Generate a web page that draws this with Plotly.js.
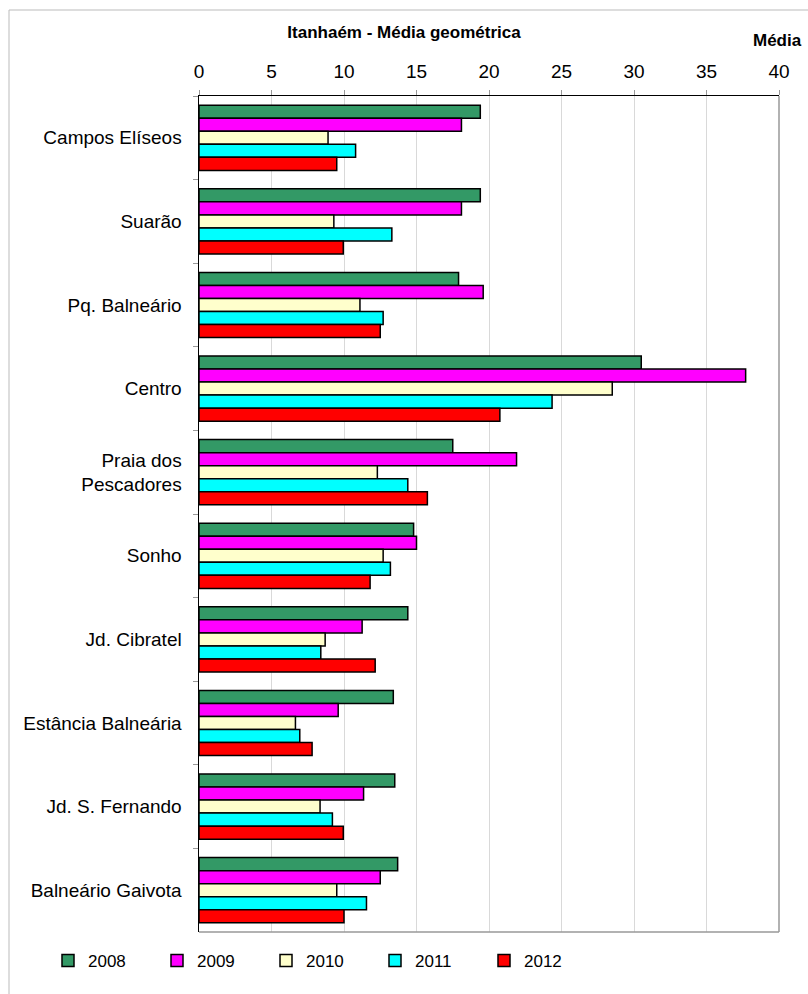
<!DOCTYPE html>
<html>
<head>
<meta charset="utf-8">
<script src="https://cdn.plot.ly/plotly-3.0.1.min.js"></script>
<style>
html,body{margin:0;padding:0;background:#fff;}
#chart{width:808px;height:994px;}
</style>
</head>
<body>
<div id="chart"></div>
<script>
var categories = ["Campos Elíseos","Suarão","Pq. Balneário","Centro","Praia dos<br>Pescadores","Sonho","Jd. Cibratel","Estância Balneária","Jd. S. Fernando","Balneário Gaivota"];
var years = ["2008","2009","2010","2011","2012"];
var v2008 = [19.4, 19.4, 17.9, 30.5, 17.5, 14.8, 14.4, 13.4, 13.5, 13.7];
var v2009 = [18.1, 18.1, 19.6, 37.7, 21.9, 15.0, 11.25, 9.6, 11.35, 12.5];
var v2010 = [8.9, 9.3, 11.1, 28.5, 12.3, 12.7, 8.7, 6.65, 8.35, 9.5];
var v2011 = [10.8, 13.3, 12.7, 24.35, 14.4, 13.2, 8.4, 6.95, 9.2, 11.55];
var v2012 = [9.5, 9.95, 12.5, 20.75, 15.75, 11.8, 12.15, 7.8, 9.95, 10.0];
var colors = ["#339966","#FF00FF","#FFFFCC","#00FFFF","#FF0000"];
var series = [v2008, v2009, v2010, v2011, v2012];

var font = "Liberation Sans, Arial, sans-serif";
var traces = series.map(function(vals, i){
  return {
    type: "bar",
    orientation: "h",
    name: years[i],
    x: vals,
    y: categories,
    marker: {color: colors[i], line: {color: "#000", width: 1.5}},
    hoverinfo: "x+name"
  };
});

var layout = {
  width: 808, height: 994,
  paper_bgcolor: "#fff", plot_bgcolor: "#fff",
  margin: {l: 199, r: 29, t: 96, b: 62},
  font: {family: font, size: 19, color: "#000"},
  barmode: "group",
  bargap: 0.22,
  bargroupgap: 0,
  showlegend: true,
  title: {text: "<b>Itanhaém - Média geométrica</b>", font: {family: font, size: 17, color: "#000"},
          xref: "container", x: 0.5, xanchor: "center", yref: "container", y: 1 - 32/994, yanchor: "middle"},
  xaxis: {
    side: "top", range: [0, 40], dtick: 5, tick0: 0,
    showgrid: true, gridcolor: "#d9d9d9", gridwidth: 1,
    zeroline: false,
    showline: true, linecolor: "#000", linewidth: 1.5,
    ticks: "outside", ticklen: 5, tickcolor: "#999",
    ticklabelstandoff: 4,
    tickfont: {family: font, size: 19, color: "#000"},
    fixedrange: true
  },
  yaxis: {
    type: "category", autorange: "reversed",
    showgrid: false, zeroline: false,
    showline: true, linecolor: "#000", linewidth: 1.5,
    ticks: "outside", ticklen: 5, tickcolor: "#999", tickson: "boundaries",
    ticklabelstandoff: 12,
    tickfont: {family: font, size: 19, color: "#000"},
    fixedrange: true
  },
  legend: {
    orientation: "h", xref: "container", yref: "container",
    x: 48/808, xanchor: "left", y: 1 - 961/994, yanchor: "middle",
    font: {family: font, size: 17, color: "#000"},
    itemwidth: 30, entrywidth: 64, traceorder: "normal",
    bgcolor: "rgba(0,0,0,0)"
  },
  annotations: [{
    text: "<b>Média</b>", xref: "paper", yref: "paper", x: 0.997, y: (932-40)/836,
    xanchor: "center", yanchor: "middle", showarrow: false,
    font: {family: font, size: 17, color: "#000"}
  }],
  shapes: [
    {type: "line", xref: "paper", yref: "paper", x0: 1, x1: 1, y0: 0, y1: 1, line: {color: "#999", width: 1.5}},
    {type: "line", xref: "paper", yref: "paper", x0: 0, x1: 1, y0: 0, y1: 0, line: {color: "#999", width: 1.5}},
    {type: "line", xref: "paper", yref: "paper", x0: (9-199)/580, x1: (830-199)/580, y0: (932-10)/836, y1: (932-10)/836, line: {color: "#bbb", width: 1}},
    {type: "line", xref: "paper", yref: "paper", x0: (9-199)/580, x1: (9-199)/580, y0: (932-10)/836, y1: (932-1010)/836, line: {color: "#bbb", width: 1}}
  ]
};

Plotly.newPlot("chart", traces, layout, {displayModeBar: false, staticPlot: true});
</script>
</body>
</html>
